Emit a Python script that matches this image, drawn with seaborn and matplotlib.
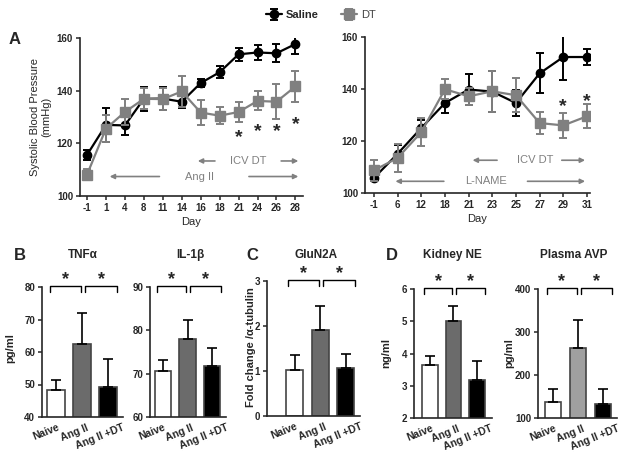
import matplotlib
matplotlib.use('Agg')
import matplotlib.pyplot as plt
import matplotlib.transforms as mtransforms
import seaborn as sns
import numpy as np
import pandas as pd

# Panel A data: systolic blood pressure (mmHg), mean and SEM
days_angii = ['-1', '1', '4', '8', '11', '14', '16', '18', '21', '24', '26', '28']
saline_angii = [115.6, 127.0, 126.8, 136.9, 137.0, 135.8, 142.9, 147.0, 153.8, 154.5, 154.2, 157.7]
saline_angii_err = [2.0, 6.5, 3.8, 4.5, 4.5, 2.5, 1.5, 2.3, 2.4, 3.0, 3.4, 3.8]
dt_angii = [108.1, 125.6, 131.9, 136.9, 136.8, 139.7, 131.7, 130.5, 131.9, 136.1, 135.8, 141.6]
dt_angii_err = [2.2, 5.0, 5.0, 4.0, 4.3, 6.0, 4.6, 3.2, 3.8, 3.6, 6.6, 6.0]
stars_angii = ['21', '24', '26', '28']
stars_angii_y = [122.0, 124.6, 124.6, 127.1]

days_lname = ['-1', '6', '12', '18', '21', '23', '25', '27', '29', '31']
saline_lname = [105.8, 115.1, 125.0, 134.6, 139.8, 139.0, 134.6, 146.0, 152.3, 152.3]
saline_lname_err = [1.0, 3.5, 3.0, 4.0, 6.0, 8.0, 5.0, 7.7, 9.0, 3.0]
dt_lname = [108.7, 113.5, 123.4, 139.9, 137.2, 139.1, 137.6, 126.9, 126.0, 129.5]
dt_lname_err = [4.0, 5.3, 5.5, 3.9, 3.2, 8.0, 6.6, 4.1, 4.8, 4.6]
stars_lname = ['29', '31']
stars_lname_y = [133.2, 135.3]

# Panels B-D data: mean and upper SEM
groups = ['Naive', 'Ang II', 'Ang II +DT']
tnfa = [48.2, 62.4, 49.2]
tnfa_err = [3.1, 9.6, 8.6]
il1b = [70.6, 78.1, 71.8]
il1b_err = [2.6, 4.4, 4.1]
glun2a = [1.02, 1.92, 1.07]
glun2a_err = [0.33, 0.52, 0.30]
kidney_ne = [3.65, 5.0, 3.19]
kidney_ne_err = [0.28, 0.46, 0.57]
plasma_avp = [137, 263, 133]
plasma_avp_err = [30, 66, 34]

sns.set_style('ticks')
plt.rcParams['font.family'] = ['Liberation Sans', 'DejaVu Sans']
plt.rcParams['font.weight'] = 'bold'
plt.rcParams['axes.linewidth'] = 1.2

W, H = 626, 457
fig = plt.figure(figsize=(W / 100, H / 100), dpi=100)
GRAY = '#808080'


def box(l, t, r, b):
    return fig.add_axes([l / W, 1 - b / H, (r - l) / W, (b - t) / H])


def line_panel(ax, days, sal, sal_err, dt, dt_err, xlim):
    x = np.arange(len(days))
    h1 = ax.errorbar(x, sal, yerr=sal_err, color='black', marker='o', ms=6,
                     lw=1.6, elinewidth=1.4, capsize=3, capthick=1.4, zorder=3)
    h2 = ax.errorbar(x, dt, yerr=dt_err, color=GRAY, marker='s', ms=6.5,
                     lw=1.6, elinewidth=1.4, capsize=3, capthick=1.4, zorder=4)
    ax.set_xticks(x)
    ax.set_xticklabels(days)
    ax.set_xlim(*xlim)
    ax.set_ylim(100, 160)
    ax.set_yticks([100, 120, 140, 160])
    ax.tick_params(labelsize=7, length=3, width=1.1, pad=2)
    ax.set_xlabel('Day', fontsize=8, labelpad=3)
    sns.despine(ax=ax)
    return h1, h2


def arrow_text(ax, y, head_l, tail_l, label, xtext, tail_r, head_r):
    kw = dict(arrowstyle='-|>', color=GRAY, lw=1.2, mutation_scale=7)
    ax.annotate('', xy=(head_l, y), xytext=(tail_l, y), arrowprops=kw)
    ax.annotate('', xy=(head_r, y), xytext=(tail_r, y), arrowprops=kw)
    ax.text(xtext, y, label, color=GRAY, fontsize=8, fontweight='normal',
            ha='center', va='center')


# Panel A left
axA1 = box(80, 38, 303, 196)
h1, h2 = line_panel(axA1, days_angii, saline_angii, saline_angii_err,
                    dt_angii, dt_angii_err, (-0.37, 11.4))
for d, yv in zip(stars_angii, stars_angii_y):
    axA1.text(days_angii.index(d), yv, '*', fontsize=14, ha='center', va='center')
arrow_text(axA1, 113.3, 5.7, 6.9, 'ICV DT', 8.5, 10.1, 11.3)
arrow_text(axA1, 107.4, 1.05, 3.97, 'Ang II', 5.95, 8.4, 11.3)
axA1.set_ylabel('Systolic Blood Pressure\n(mmHg)', fontsize=8, labelpad=4)

# Panel A right
axA2 = box(365, 37, 590, 193)
line_panel(axA2, days_lname, saline_lname, saline_lname_err,
           dt_lname, dt_lname_err, (-0.38, 9.13))
for d, yv in zip(stars_lname, stars_lname_y):
    axA2.text(days_lname.index(d), yv, '*', fontsize=14, ha='center', va='center')
arrow_text(axA2, 112.6, 4.05, 5.32, 'ICV DT', 6.8, 7.82, 9.04)
arrow_text(axA2, 104.5, 0.79, 3.07, 'L-NAME', 4.75, 6.37, 9.04)

leg = fig.legend([h1, h2], ['Saline', 'DT'], loc='center', ncol=2,
                 bbox_to_anchor=(321 / W, 1 - 15 / H), frameon=False,
                 fontsize=8, handlelength=1.4, columnspacing=2.0, handletextpad=0.4)
leg.get_texts()[1].set_color('#444444')
leg.get_texts()[1].set_fontweight('normal')


def bar_panel(rect, vals, errs, ylim, yticks, xlim, colors, title, tx):
    ax = box(*rect)
    df = pd.DataFrame({'group': groups, 'value': vals})
    sns.barplot(data=df, x='group', y='value', hue='group', palette=colors,
                legend=False, width=0.66, edgecolor='#444444', linewidth=1.2, ax=ax)
    ax.errorbar(np.arange(3), vals, yerr=[np.zeros(3), errs], fmt='none',
                ecolor='black', elinewidth=1.2, capsize=3.5, capthick=1.2)
    ax.set_ylim(*ylim)
    ax.set_yticks(yticks)
    ax.set_xlim(*xlim)
    ax.set_xlabel('')
    ax.set_ylabel('')
    # labels sit progressively further right of their bars, as in the original
    ax.set_xticks(np.arange(3) + np.array([0.03, 0.15, 0.55]))
    ax.set_xticklabels(groups, rotation=22, ha='right', rotation_mode='anchor')
    ax.tick_params(axis='y', labelsize=7, length=3, width=1.1, pad=2)
    ax.tick_params(axis='x', labelsize=7.5, length=0, pad=4)
    sns.despine(ax=ax)
    # significance brackets
    trans = mtransforms.blended_transform_factory(ax.transData, ax.transAxes)
    for x0, x1 in [(-0.25, 0.95), (1.12, 2.35)]:
        ax.plot([x0, x0, x1, x1], [0.965, 1.01, 1.01, 0.965], color='black',
                lw=1.0, transform=trans, clip_on=False)
        ax.text((x0 + x1) / 2, 1.055, '*', fontsize=13, ha='center', va='center',
                transform=trans)
    fig.text(tx / W, 1 - 255 / H, title, fontsize=8.5, ha='center', va='center')
    return ax


pal3 = ['white', '#6b6b6b', 'black']
bar_panel((42, 287, 123, 417), tnfa, tnfa_err, (40, 80), [40, 50, 60, 70, 80],
          (-0.54, 2.58), pal3, 'TNFα', 83)
bar_panel((150, 287, 226, 417), il1b, il1b_err, (60, 90), [60, 70, 80, 90],
          (-0.52, 2.56), pal3, 'IL-1β', 190)
bar_panel((267, 281, 360, 416), glun2a, glun2a_err, (0, 3), [0, 1, 2, 3],
          (-1.08, 2.5), pal3, 'GluN2A', 316)
bar_panel((414, 289, 492, 418), kidney_ne, kidney_ne_err, (2, 6), [2, 3, 4, 5, 6],
          (-0.68, 2.64), pal3, 'Kidney NE', 452)
bar_panel((538, 289, 617, 418), plasma_avp, plasma_avp_err, (100, 400), [100, 200, 300, 400],
          (-0.6, 2.56), ['white', '#a0a0a0', 'black'], 'Plasma AVP', 574)

# y labels for bar panels
fig.text(10 / W, 1 - 348 / H, 'pg/ml', rotation=90, fontsize=8, ha='center', va='center')
fig.text(251 / W, 1 - 347 / H, 'Fold change /α-tubulin', rotation=90, fontsize=8,
         ha='center', va='center')
fig.text(386 / W, 1 - 353 / H, 'ng/ml', rotation=90, fontsize=8, ha='center', va='center')
fig.text(509 / W, 1 - 353 / H, 'pg/ml', rotation=90, fontsize=8, ha='center', va='center')

# panel letters
for letter, lx, ly in [('A', 15, 40), ('B', 20, 255), ('C', 252, 255), ('D', 392, 255)]:
    fig.text(lx / W, 1 - ly / H, letter, fontsize=12, ha='center', va='center')

fig.savefig('out.png', dpi=100)
